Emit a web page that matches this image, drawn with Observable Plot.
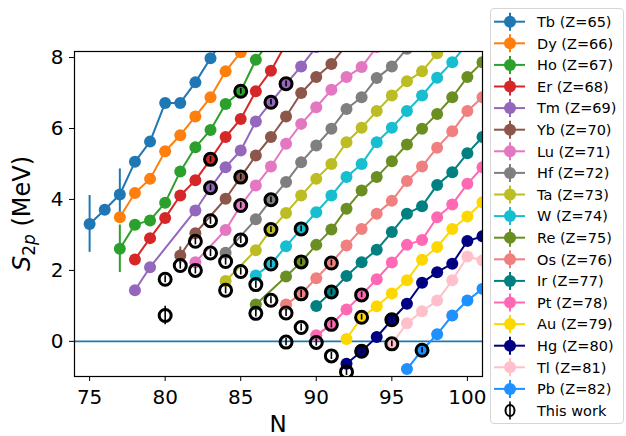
<!DOCTYPE html>
<html><head><meta charset="utf-8">
<script src="https://cdn.jsdelivr.net/npm/d3@7"></script>
<script src="https://cdn.jsdelivr.net/npm/@observablehq/plot@0.6"></script>
<style>
body{margin:0;background:white;font-family:"DejaVu Sans",sans-serif;}
#wrap{position:relative;width:626px;height:436px;overflow:hidden;background:white;}
#legend{position:absolute;left:490px;top:8px;width:134px;height:416px;border:1px solid #d6d6d6;border-radius:4px;background:white;box-sizing:border-box;}
</style></head><body><div id="wrap"></div>
<script>
// ---- data ----
const labels = ["Tb (Z=65)","Dy (Z=66)","Ho (Z=67)","Er (Z=68)","Tm (Z=69)","Yb (Z=70)","Lu (Z=71)","Hf (Z=72)","Ta (Z=73)","W (Z=74)","Re (Z=75)","Os (Z=76)","Ir (Z=77)","Pt (Z=78)","Au (Z=79)","Hg (Z=80)","Tl (Z=81)","Pb (Z=82)"];
const colors = ["#1f77b4","#ff7f0e","#2ca02c","#d62728","#9467bd","#8c564b","#e377c2","#7f7f7f","#bcbd22","#17becf","#6b8e23","#f08080","#008080","#ff69b4","#ffd700","#000080","#ffc0cb","#1e90ff"];

const tbN=[75,76,77,78,79,80,81,82,83,84];
const tbS=[3.31,3.71,4.14,5.06,5.63,6.72,6.72,7.30,7.98,8.63];
const tbE=[0.80,0,0.72,0,0,0,0,0,0,0];
const dyN=[77,78,79,80,81,82,83,84,85,86];
const dyS=[3.50,4.18,4.58,5.36,5.81,6.34,6.88,7.61,8.15,8.70];
const dyE=[0,0,0.15,0,0,0,0,0,0,0];
const hoN=[77,78,79,80,81,82,83,84,85,86,87];
const hoS=[2.61,3.29,3.41,3.91,4.79,5.47,5.96,6.69,7.05,7.94,8.50];
const hoE=[0.67,0,0,0,0,0,0,0,0,0,0];
const erN=[78,79,80,81,82,83,84,85,86,87,88];
const erS=[2.31,2.91,3.48,4.11,4.54,5.13,5.76,6.27,7.05,7.63,8.39];
const tmN=[78,79,82,83,84,85,86,87,88,89,90];
const tmS=[1.44,2.09,3.69,4.33,4.91,5.38,6.20,6.74,7.26,7.75,8.30];
const ybN=[81,82,84,85,86,87,88,89,90,91,92];
const ybS=[2.42,3.05,4.02,4.63,5.24,5.76,6.34,7.00,7.45,7.82,8.35];
const ybE=[0.24,0,0,0,0,0,0,0,0,0,0];
const luN=[82,84,85,86,87,88,89,90,91,92,93,94];
const luS=[2.23,3.14,3.83,4.39,4.93,5.57,6.13,6.60,7.09,7.45,7.73,8.30];
const hfN=[84,86,87,88,89,90,91,92,93,94,95,96];
const hfS=[2.50,3.44,3.99,4.49,5.05,5.52,5.99,6.55,6.88,7.42,7.75,8.25];
const taN=[84,86,87,88,89,90,91,92,93,94,95,96,97,98,99];
const taS=[1.70,2.57,3.15,3.62,4.11,4.58,5.00,5.61,6.02,6.49,6.93,7.33,7.61,8.12,8.60];
const wN=[86,87,88,89,90,91,92,93,94,95,96,97,98,99,100];
const wS=[1.86,2.18,2.68,3.17,3.64,4.11,4.63,5.00,5.61,6.02,6.49,6.93,7.43,7.87,8.40];
const reN=[86,88,89,90,91,92,93,94,95,96,97,98,99,100,101];
const reS=[1.04,1.83,2.24,2.72,3.15,3.74,4.25,4.63,5.08,5.55,5.99,6.41,6.88,7.45,7.87];
const osN=[88,89,90,91,92,93,94,95,96,97,98,99,100,101];
const osS=[1.04,1.34,1.78,2.22,2.70,3.17,3.60,3.96,4.52,4.93,5.46,5.92,6.49,6.88];
const irN=[90,91,92,93,94,95,96,97,98,99,100,101];
const irS=[1.00,1.39,1.84,2.23,2.58,3.08,3.60,3.81,4.41,4.77,5.30,5.76];
const ptN=[90,91,92,93,94,95,96,97,98,99,100,101];
const ptS=[0.17,0.48,0.90,1.31,1.75,2.22,2.72,2.86,3.50,3.86,4.44,4.91];
const auN=[92,93,94,95,96,97,98,99,100,101];
const auS=[0.07,0.68,0.99,1.35,1.72,2.30,2.66,3.17,3.52,3.92];
const hgN=[92,93,94,95,96,97,98,99,100,101];
const hgS=[-0.63,-0.28,0.12,0.61,1.06,1.65,1.95,2.19,2.83,2.96];
const tlN=[95,96,97,98,99,100,101];
const tlS=[-0.07,0.51,0.85,1.15,1.72,2.39,2.28];
const pbN=[96,97,98,99,100,101];
const pbS=[-0.78,-0.25,0.20,0.73,1.15,1.48];

// This work
const twN=[80,80,81,82,82,83,83,83,83,84,84,85,85,85,85,85,86,86,87,87,87,87,87,88,88,88,89,89,89,89,90,91,91,91,91,92,93,93,93,95,95,97];
const twS=[1.75,0.73,2.14,2.82,2.00,5.13,4.33,3.40,2.49,2.25,1.44,7.05,4.63,3.83,2.86,1.97,1.60,0.79,6.74,3.99,3.15,2.18,1.16,7.26,0.80,-0.02,3.17,2.24,1.34,0.39,-0.03,2.21,1.39,0.48,-0.41,-0.86,1.31,0.68,-0.28,0.61,-0.07,-0.25];
const twE=[0.10,0.26,0.10,0.10,0.10,0.08,0.08,0.10,0.10,0.10,0.10,0.08,0.08,0.08,0.10,0.10,0.10,0.10,0.08,0.08,0.08,0.10,0.10,0.08,0.10,0.10,0.08,0.08,0.10,0.10,0.10,0.08,0.08,0.10,0.10,0.10,0.08,0.08,0.10,0.08,0.08,0.08];

const xTicks=[75,80,85,90,95,100];
const yTicks=[0,2,4,6,8];

// ---- build tables ----
const Ns=[tbN,dyN,hoN,erN,tmN,ybN,luN,hfN,taN,wN,reN,osN,irN,ptN,auN,hgN,tlN,pbN];
const Ss=[tbS,dyS,hoS,erS,tmS,ybS,luS,hfS,taS,wS,reS,osS,irS,ptS,auS,hgS,tlS,pbS];
const Es=[tbE,dyE,hoE,null,null,ybE,null,null,null,null,null,null,null,null,null,null,null,null];

const marks=[];
marks.push(Plot.ruleY([0],{stroke:"#1f77b4",strokeWidth:1.8,clip:true}));
labels.forEach((lab,k)=>{
  const data=Ns[k].map((n,i)=>({N:n,S:Ss[k][i],E:Es[k]?Es[k][i]:0}));
  const errs=data.filter(d=>d.E>0);
  if(errs.length) marks.push(Plot.ruleX(errs,{x:"N",y1:d=>d.S-d.E,y2:d=>d.S+d.E,stroke:colors[k],strokeWidth:2,clip:true}));
  marks.push(Plot.line(data,{x:"N",y:"S",stroke:colors[k],strokeWidth:2,clip:true}));
  marks.push(Plot.dot(data,{x:"N",y:"S",fill:colors[k],r:6,clip:true}));
});
const tw=twN.map((n,i)=>({N:n,S:twS[i],E:twE[i]}));
marks.push(Plot.ruleX(tw,{x:"N",y1:d=>d.S-d.E,y2:d=>d.S+d.E,stroke:"black",strokeWidth:1.6,clip:true}));
marks.push(Plot.dot(tw,{x:"N",y:"S",fill:"none",stroke:"black",strokeWidth:3,r:6,clip:true}));
marks.push(Plot.frame({stroke:"black",strokeWidth:1.2}));
marks.push(Plot.axisX({ticks:xTicks,tickSize:5,tickPadding:8,label:null,fontSize:20,stroke:"black",color:"black"}));
marks.push(Plot.axisY({ticks:yTicks,tickSize:5,tickPadding:6,label:null,fontSize:20,stroke:"black",color:"black"}));

const plot=Plot.plot({
  width:626,height:436,
  marginLeft:74,marginRight:144,marginTop:51,marginBottom:60,
  x:{domain:[74,101]},
  y:{domain:[-0.99,8.17]},
  style:{fontFamily:"DejaVu Sans",fontSize:"20px",background:"white",color:"black"},
  marks
});
const wrap=document.getElementById("wrap");
wrap.appendChild(plot);

const svg=d3.select(plot);
svg.append("text").attr("x",278).attr("y",432).attr("text-anchor","middle")
  .attr("font-size",23).attr("font-family","DejaVu Sans").attr("fill","black").text("N");
const yl=svg.append("text").attr("transform","translate(30,213.5) rotate(-90)").attr("text-anchor","middle")
  .attr("font-size",24).attr("font-family","DejaVu Sans").attr("fill","black");
yl.append("tspan").attr("font-style","italic").text("S");
yl.append("tspan").attr("font-size",17).attr("dy",5).text("2");
yl.append("tspan").attr("font-size",17).attr("font-style","italic").text("p");
yl.append("tspan").attr("dy",-5).text(" (MeV)");

// ---- legend ----
const leg=document.createElement("div");
leg.id="legend";
wrap.appendChild(leg);
const ls=d3.select(leg).append("svg").attr("width",134).attr("height",416).style("position","absolute").style("left","-1px").style("top","-1px");
labels.forEach((lab,k)=>{
  const cy=21.7+k*21.6-8;
  ls.append("line").attr("x1",4).attr("x2",35).attr("y1",cy).attr("y2",cy).attr("stroke",colors[k]).attr("stroke-width",2);
  ls.append("line").attr("x1",20).attr("x2",20).attr("y1",cy-9).attr("y2",cy+9).attr("stroke",colors[k]).attr("stroke-width",2);
  ls.append("circle").attr("cx",20).attr("cy",cy).attr("r",6).attr("fill",colors[k]);
  ls.append("text").attr("x",47).attr("y",cy+5.3).attr("font-size",14.5).attr("font-family","DejaVu Sans").attr("fill","black").text(lab);
});
{
  const cy=21.7+18*21.6-8;
  ls.append("line").attr("x1",20).attr("x2",20).attr("y1",cy-9).attr("y2",cy+9).attr("stroke","black").attr("stroke-width",1.6);
  ls.append("ellipse").attr("cx",20).attr("cy",cy).attr("rx",4.5).attr("ry",5.5).attr("fill","none").attr("stroke","black").attr("stroke-width",2);
  ls.append("text").attr("x",47).attr("y",cy+5.3).attr("font-size",14.5).attr("font-family","DejaVu Sans").attr("fill","black").text("This work");
}
</script></body></html>
